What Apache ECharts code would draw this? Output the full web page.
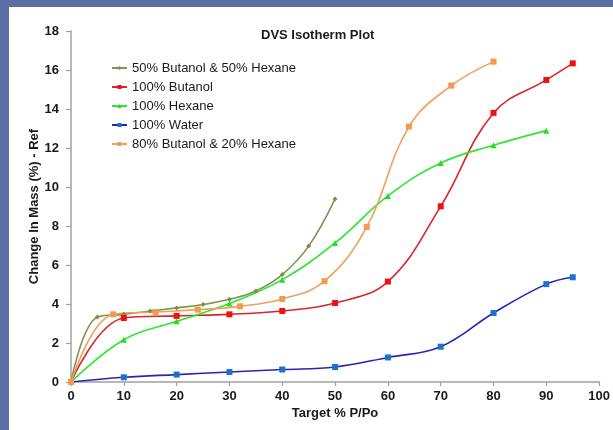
<!DOCTYPE html>
<html>
<head>
<meta charset="utf-8">
<script src="https://cdn.jsdelivr.net/npm/echarts@6/dist/echarts.min.js"></script>
<style>
  html, body { margin: 0; padding: 0; width: 613px; height: 430px; background: #5a6ea8; overflow: hidden; }
  #chart { position: absolute; left: 9px; top: 7px; width: 604px; height: 423px; background: #ffffff; }
</style>
</head>
<body>
<div id="chart"></div>
<script>
// ---- Data ----
const seriesNames = ['50% Butanol & 50% Hexane', '100% Butanol', '100% Hexane', '100% Water', '80% Butanol & 20% Hexane'];

const mix5050X = [0, 5, 10, 15, 20, 25, 30, 35, 40, 45, 50];
const mix5050Y = [0, 3.33, 3.47, 3.64, 3.80, 3.97, 4.24, 4.67, 5.51, 6.97, 9.39];

const butanolX = [0, 10, 20, 30, 40, 50, 60, 70, 80, 90, 95];
const butanolY = [0, 3.28, 3.39, 3.47, 3.64, 4.05, 5.15, 9.01, 13.8, 15.49, 16.34];

const hexaneX = [0, 10, 20, 30, 40, 50, 60, 70, 80, 90];
const hexaneY = [0, 2.17, 3.11, 4.02, 5.25, 7.13, 9.54, 11.23, 12.14, 12.89];

const waterX = [0, 10, 20, 30, 40, 50, 60, 70, 80, 90, 95];
const waterY = [0, 0.24, 0.38, 0.51, 0.64, 0.77, 1.26, 1.81, 3.54, 5.02, 5.37];

const mix8020X = [0, 8, 16, 24, 32, 40, 48, 56, 64, 72, 80];
const mix8020Y = [0, 3.47, 3.59, 3.71, 3.88, 4.26, 5.17, 7.95, 13.1, 15.2, 16.43];

const xTicks = { min: 0, max: 100, interval: 10 };
const yTicks = { min: 0, max: 18, interval: 2 };

function pairs(xs, ys) { return xs.map((x, i) => [x, ys[i]]); }

const FONT = '"Liberation Sans", Arial, sans-serif';
const TXT = '#1a1a1a';

function mkSeries(name, xs, ys, lineColor, markColor, symbol, size) {
  return {
    name: name,
    type: 'line',
    data: pairs(xs, ys),
    smooth: 0.4,
    symbol: symbol,
    symbolSize: size,
    showSymbol: true,
    lineStyle: { color: lineColor, width: 1.6 },
    itemStyle: { color: markColor, borderWidth: 0 },
    emphasis: { disabled: true },
    z: 2
  };
}

const chart = echarts.init(document.getElementById('chart'), null, { renderer: 'canvas' });
chart.setOption({
  animation: false,
  backgroundColor: '#ffffff',
  title: {
    text: 'DVS Isotherm Plot',
    left: 252,
    top: 22,
    padding: 0,
    textStyle: { fontFamily: FONT, fontSize: 13, fontWeight: 'bold', color: TXT }
  },
  legend: {
    orient: 'vertical',
    left: 102,
    top: 54,
    padding: 0,
    itemWidth: 15,
    itemHeight: 5,
    itemGap: 5,
    data: seriesNames,
    textStyle: { fontFamily: FONT, fontSize: 13, color: TXT, lineHeight: 14 }
  },
  grid: { left: 62, right: 12, top: 24, bottom: 48, containLabel: false },
  xAxis: {
    type: 'value',
    min: xTicks.min, max: xTicks.max, interval: xTicks.interval,
    name: 'Target % P/Po',
    nameLocation: 'middle',
    nameGap: 25,
    nameMoveOverlap: false,
    nameTextStyle: { fontFamily: FONT, fontSize: 13, fontWeight: 'bold', color: TXT },
    axisLine: { show: true, lineStyle: { color: '#a0a0a0', width: 1.5 } },
    axisTick: { show: true, length: 4, lineStyle: { color: '#a0a0a0', width: 1.2 } },
    axisLabel: { fontFamily: FONT, fontSize: 13, fontWeight: 'bold', color: TXT, margin: 8 },
    splitLine: { show: false }
  },
  yAxis: {
    type: 'value',
    min: yTicks.min, max: yTicks.max, interval: yTicks.interval,
    name: 'Change In Mass (%) - Ref',
    nameLocation: 'middle',
    nameGap: 30,
    nameMoveOverlap: false,
    nameTextStyle: { fontFamily: FONT, fontSize: 13, fontWeight: 'bold', color: TXT },
    axisLine: { show: true, lineStyle: { color: '#a0a0a0', width: 1.5 } },
    axisTick: { show: true, length: 5, lineStyle: { color: '#a0a0a0', width: 1.2 } },
    axisLabel: { fontFamily: FONT, fontSize: 13, fontWeight: 'bold', color: TXT, margin: 12 },
    splitLine: { show: false }
  },
  series: [
    mkSeries(seriesNames[0], mix5050X, mix5050Y, '#7f9450', '#7a9048', 'diamond', 5),
    mkSeries(seriesNames[1], butanolX, butanolY, '#d8262c', '#f01010', 'rect', 6),
    mkSeries(seriesNames[2], hexaneX, hexaneY, '#2ee62e', '#22dd22', 'triangle', 6),
    mkSeries(seriesNames[3], waterX, waterY, '#2626b8', '#1f70c8', 'rect', 6),
    mkSeries(seriesNames[4], mix8020X, mix8020Y, '#f0a05a', '#f39a4c', 'rect', 6)
  ]
});
</script>
</body>
</html>
